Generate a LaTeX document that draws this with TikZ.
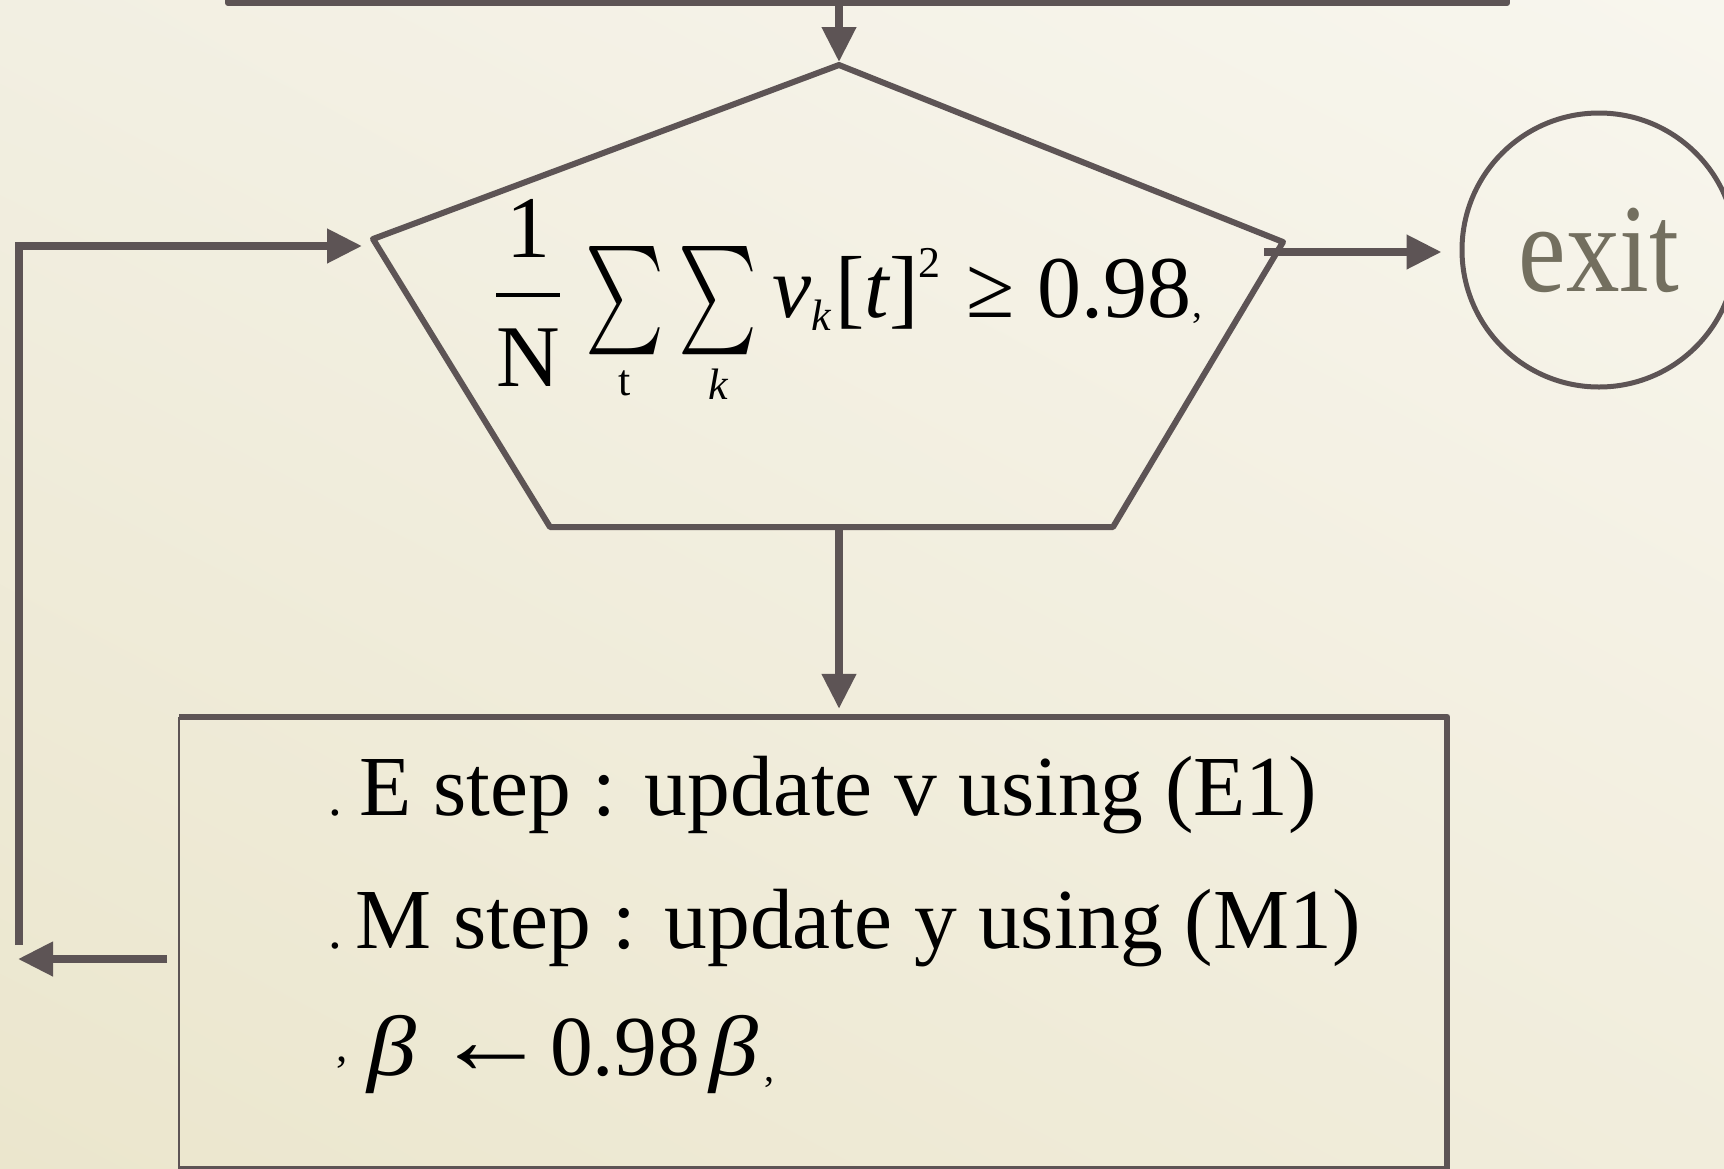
\documentclass[tikz,border=0pt]{standalone}
\usepackage{amsmath}
\usepackage{graphicx}
\usepackage{fontspec}
\setmainfont{Liberation Serif}
\usetikzlibrary{arrows.meta,shadings}
\definecolor{ink}{RGB}{93,84,85}
\definecolor{exitc}{RGB}{115,111,95}
\definecolor{bgul}{RGB}{242,239,226}
\definecolor{bgur}{RGB}{248,246,238}
\definecolor{bgll}{RGB}{235,230,205}
\definecolor{bglr}{RGB}{241,237,220}
\newcommand{\narrowsum}{\mathop{\raisebox{-0.12em}{\scalebox{0.85}[1.23]{$\textstyle\sum$}}}\limits}
\newcommand{\tinyscr}[1]{{\scriptscriptstyle #1}}
\newcommand{\liftlim}[1]{\raisebox{1.3pt}[0pt][0pt]{\fontsize{5}{6}\selectfont #1}}
\newcommand{\wbeta}{\scalebox{1.15}[1]{\textit{β}}}
\begin{document}
\begin{tikzpicture}[x=1pt,y=-1pt,
  ln/.style={draw=ink, line width=6pt, line join=round},
  thinln/.style={draw=ink, line width=2.5pt},
  arr/.style={draw=ink, line width=7.5pt, -{Triangle[length=35pt,width=33pt]}},
  txt/.style={inner sep=0pt, anchor=base west, text=black, font=\fontsize{85.5}{100}\selectfont},
  exitnode/.style={circle, draw=ink, line width=5pt, minimum size=274pt, inner sep=0pt, text=exitc, font=\fontsize{126}{126}\selectfont},
]
\useasboundingbox (0,0) rectangle (1724,1168);
\shade[upper left=bgul, upper right=bgur, lower left=bgll, lower right=bglr] (0,0) rectangle (1724,1168);
\clip (0,0) rectangle (1724,1168);

% previous box (cut off at top)
\node[ln, inner sep=0pt, minimum width=1279pt, minimum height=106pt] (topbox) at (867.5,-50) {};

% pentagon decision
\coordinate (pt) at (839,65);
\coordinate (pl) at (373,239);
\coordinate (pbl) at (550,527);
\coordinate (pbr) at (1113,527);
\coordinate (pr) at (1283,242);
\coordinate (pb) at (839,527);
\draw[ln] (pt) -- (pr) -- (pbr) -- (pbl) -- (pl) -- cycle;

\node[inner sep=0pt, anchor=base west, text=black, scale=8.8, font=\fontsize{10}{12}\selectfont] (cond) at (484,317)
  {$\displaystyle\frac{\text{1}}{\text{\raisebox{-0.1em}{N}}}\narrowsum_{\liftlim{t}}\narrowsum_{\liftlim{\itshape k}}\textit{v}_{\tinyscr{\textit{k}}}\text{[}\textit{t}\text{]}^{\tinyscr{\text{2}}}\text{ ≥ 0.98}$\kern0.2pt{\fontsize{4.5}{5}\selectfont,}};

% exit
\node[exitnode] (exit) at (1599,250) {\scalebox{0.85}[1]{exit}};

% update box
\node[inner sep=0pt, minimum width=1268pt, minimum height=452pt] (upd) at (813,943) {};
\draw[ln] (upd.north west) -- (upd.north east) -- (upd.south east) -- (upd.south west);
\draw[thinln] (upd.north west) -- (upd.south west);

\node[txt] (l1) at (328,815) {{\fontsize{55}{55}\selectfont.}\kern18pt E step : update v using (E1)};
\node[txt] (l2) at (328,948) {{\fontsize{55}{55}\selectfont.}\kern14pt M step : update y using (M1)};
\node[txt] (l3) at (336,1075) {{\fontsize{45}{45}\selectfont\raisebox{14pt}{,}}\kern20pt\wbeta\kern18pt\raisebox{2pt}{\scalebox{1.33}[1.15]{←}}\kern2pt 0.98\kern10pt\wbeta\kern6pt{\fontsize{40}{40}\selectfont\raisebox{-6pt}{,}}};

% connectors
\draw[arr, shorten >=3pt] (topbox.south -| pt) -- (pt);
\draw[arr, shorten >=8pt] (pb) -- (pb |- upd.north);
\coordinate (rs) at (1264,252);
\draw[arr, shorten >=18pt] (rs) -- (rs -| exit.west);
\coordinate (lb) at (167,959);
\coordinate (ll) at (18,959);
\draw[arr] (lb) -- (ll);
\coordinate (lc) at (19,945);
\coordinate (lin) at (362,246);
\draw[arr] (lc) |- (lin);
\end{tikzpicture}
\end{document}
